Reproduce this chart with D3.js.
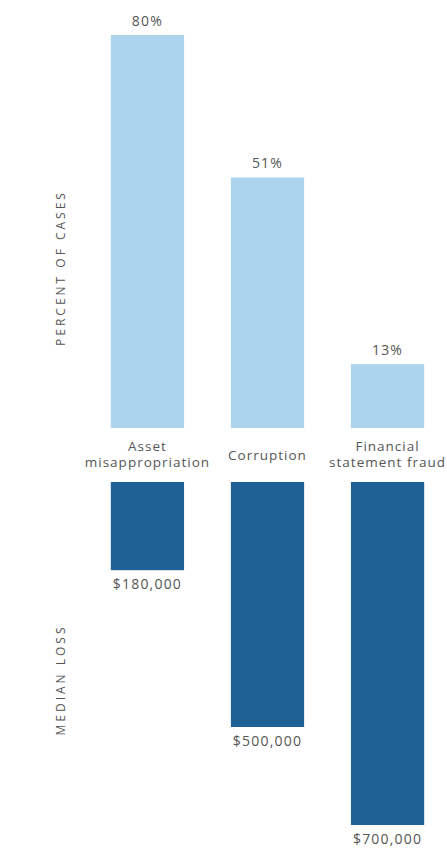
<!doctype html>
<html lang="en">
<head>
<meta charset="utf-8" />
<title>fraud chart</title>
<script src="https://d3js.org/d3.v7.min.js"></script>
<style type="text/css">
body { margin: 0; background: #fff; }
#svg_div { width: 447px; height: 849px; }
</style>
</head>
<body>
<div id="svg_div"></div>

<script>
// data
var categories = ["Asset misappropriation", "Corruption", "Financial statement fraud"];
var catLines = [["Asset", "misappropriation"], ["Corruption"], ["Financial", "statement fraud"]];
var percentCases = [80, 51, 13];
var medianLoss = [180000, 500000, 700000];

var width = 447, height = 849;
var lightBlue = "#acd4ec";
var darkBlue = "#1f6096";
var textGrey = "#555";
var font = "'Open Sans', sans-serif";

var svg = d3.select("#svg_div").append("svg")
  .attr("width", width)
  .attr("height", height);

// one x scale shared by both halves
var xScale = d3.scaleBand()
  .domain(categories)
  .range([64, 471])
  .padding(0.39);

// top half grows up from the middle, bottom half grows down
var yTop = d3.scaleLinear().domain([0, 80]).range([428, 35]);
var yBottom = d3.scaleLinear().domain([0, 700000]).range([482, 825]);

function cx(i) { return xScale(categories[i]) + xScale.bandwidth() / 2; }

// percent bars
svg.selectAll("rect.pct")
  .data(percentCases)
  .enter().append("rect")
    .attr("class", "pct")
    .attr("x", function(d, i) { return xScale(categories[i]); })
    .attr("y", function(d) { return yTop(d); })
    .attr("width", xScale.bandwidth())
    .attr("height", function(d) { return yTop(0) - yTop(d); })
    .attr("fill", lightBlue);

svg.selectAll("text.pct")
  .data(percentCases)
  .enter().append("text")
    .attr("class", "pct")
    .attr("x", function(d, i) { return cx(i); })
    .attr("y", function(d) { return yTop(d) - 9; })
    .attr("text-anchor", "middle")
    .attr("font-family", font)
    .attr("font-size", "14px")
    .attr("letter-spacing", "1.2px")
    .attr("fill", textGrey)
    .text(function(d) { return d + "%"; });

// loss bars
svg.selectAll("rect.loss")
  .data(medianLoss)
  .enter().append("rect")
    .attr("class", "loss")
    .attr("x", function(d, i) { return xScale(categories[i]); })
    .attr("y", yBottom(0))
    .attr("width", xScale.bandwidth())
    .attr("height", function(d) { return yBottom(d) - yBottom(0); })
    .attr("fill", darkBlue);

svg.selectAll("text.loss")
  .data(medianLoss)
  .enter().append("text")
    .attr("class", "loss")
    .attr("x", function(d, i) { return cx(i); })
    .attr("y", function(d) { return yBottom(d) + 19; })
    .attr("text-anchor", "middle")
    .attr("font-family", font)
    .attr("font-size", "14px")
    .attr("letter-spacing", "1.2px")
    .attr("fill", textGrey)
    .text(function(d) { return "$" + d3.format(",")(d); });

// category names between the two halves, one text per line
catLines.forEach(function(lines, i) {
  var y0 = lines.length == 1 ? 460 : 451;
  svg.selectAll(null)
    .data(lines)
    .enter().append("text")
      .attr("x", cx(i))
      .attr("y", function(d, j) { return y0 + j * 16; })
      .attr("text-anchor", "middle")
      .attr("font-family", font)
      .attr("font-size", "13.5px")
      .attr("letter-spacing", "1px")
      .attr("fill", textGrey)
      .text(function(d) { return d; });
});

// side titles
svg.append("text")
  .attr("transform", "translate(65,268) rotate(-90)")
  .attr("text-anchor", "middle")
  .attr("font-family", font)
  .attr("font-size", "12px")
  .attr("letter-spacing", "3px")
  .attr("fill", textGrey)
  .text("PERCENT OF CASES");

svg.append("text")
  .attr("transform", "translate(65,680) rotate(-90)")
  .attr("text-anchor", "middle")
  .attr("font-family", font)
  .attr("font-size", "12px")
  .attr("letter-spacing", "3px")
  .attr("fill", textGrey)
  .text("MEDIAN LOSS");
</script>
</body>
</html>
